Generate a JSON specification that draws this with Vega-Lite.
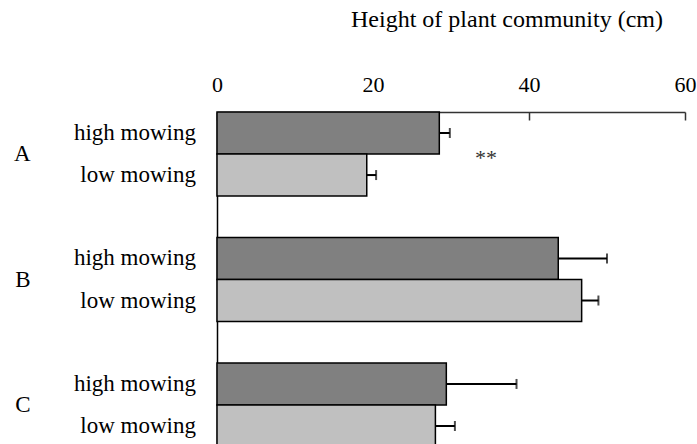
{
  "$schema": "https://vega.github.io/schema/vega-lite/v6.json",
  "autosize": "none",
  "padding": {"left": 217, "top": 112, "right": 12, "bottom": 0},
  "width": 468,
  "height": 335,
  "background": "white",
  "title": {
    "text": "Height  of plant community (cm)",
    "font": "Liberation Serif",
    "fontSize": 24,
    "fontWeight": "normal",
    "color": "black",
    "anchor": "middle",
    "frame": "group",
    "dx": 56,
    "offset": 41
  },
  "config": {
    "view": {"stroke": null},
    "font": "Liberation Serif"
  },
  "datasets": {
    "bars": [
      {"group": "A", "treatment": "high mowing", "value": 28.5, "hi": 29.85},
      {"group": "A", "treatment": "low mowing", "value": 19.2, "hi": 20.4},
      {"group": "B", "treatment": "high mowing", "value": 43.75, "hi": 50.0},
      {"group": "B", "treatment": "low mowing", "value": 46.75, "hi": 48.9},
      {"group": "C", "treatment": "high mowing", "value": 29.4, "hi": 38.4},
      {"group": "C", "treatment": "low mowing", "value": 28.0, "hi": 30.5}
    ],
    "notes": [
      {"group": "A", "label": "**", "x": 34.5}
    ]
  },
  "data": {"name": "bars"},
  "encoding": {
    "y": {
      "field": "group",
      "type": "nominal",
      "scale": {"domain": ["A", "B", "C"], "paddingInner": 0.33, "paddingOuter": 0},
      "axis": {
        "title": null,
        "ticks": false,
        "domain": true,
        "domainColor": "black",
        "domainWidth": 1.5,
        "labelPadding": 187,
        "labelFont": "Liberation Serif",
        "labelFontSize": 23,
        "labelColor": "black",
        "labelAngle": 0,
        "labelAlign": "right"
      }
    },
    "yOffset": {
      "field": "treatment",
      "type": "nominal",
      "scale": {"domain": ["high mowing", "low mowing"], "paddingInner": 0, "paddingOuter": 0}
    }
  },
  "layer": [
    {
      "mark": {"type": "bar", "stroke": "black", "strokeWidth": 1.5},
      "encoding": {
        "x": {
          "field": "value",
          "type": "quantitative",
          "scale": {"domain": [0, 60], "nice": false, "zero": true},
          "axis": {
            "orient": "top",
            "title": null,
            "values": [0, 20, 40, 60],
            "grid": false,
            "tickSize": -8,
            "tickColor": "#333333",
            "tickWidth": 1.5,
            "domainColor": "#333333",
            "domainWidth": 1.5,
            "labelPadding": 24,
            "labelFont": "Liberation Serif",
            "labelFontSize": 22,
            "labelColor": "black",
            "labelFlush": false
          }
        },
        "fill": {
          "field": "treatment",
          "type": "nominal",
          "scale": {"domain": ["high mowing", "low mowing"], "range": ["#808080", "#c0c0c0"]},
          "legend": null
        }
      }
    },
    {
      "mark": {"type": "rule", "color": "black", "strokeWidth": 2},
      "encoding": {
        "x": {"field": "value", "type": "quantitative"},
        "x2": {"field": "hi"}
      }
    },
    {
      "mark": {"type": "tick", "color": "black", "thickness": 2, "size": 10, "orient": "vertical"},
      "encoding": {
        "x": {"field": "hi", "type": "quantitative"}
      }
    },
    {
      "mark": {"type": "text", "align": "right", "baseline": "middle", "dx": -21, "font": "Liberation Serif", "fontSize": 23, "color": "black"},
      "encoding": {
        "x": {"datum": 0, "type": "quantitative"},
        "text": {"field": "treatment"}
      }
    },
    {
      "data": {"name": "notes"},
      "mark": {"type": "text", "align": "center", "baseline": "middle", "dy": 4, "font": "Liberation Serif", "fontSize": 22, "color": "#333333"},
      "encoding": {
        "x": {"field": "x", "type": "quantitative"},
        "y": {"field": "group", "type": "nominal"},
        "yOffset": null,
        "text": {"field": "label"}
      }
    }
  ]
}
